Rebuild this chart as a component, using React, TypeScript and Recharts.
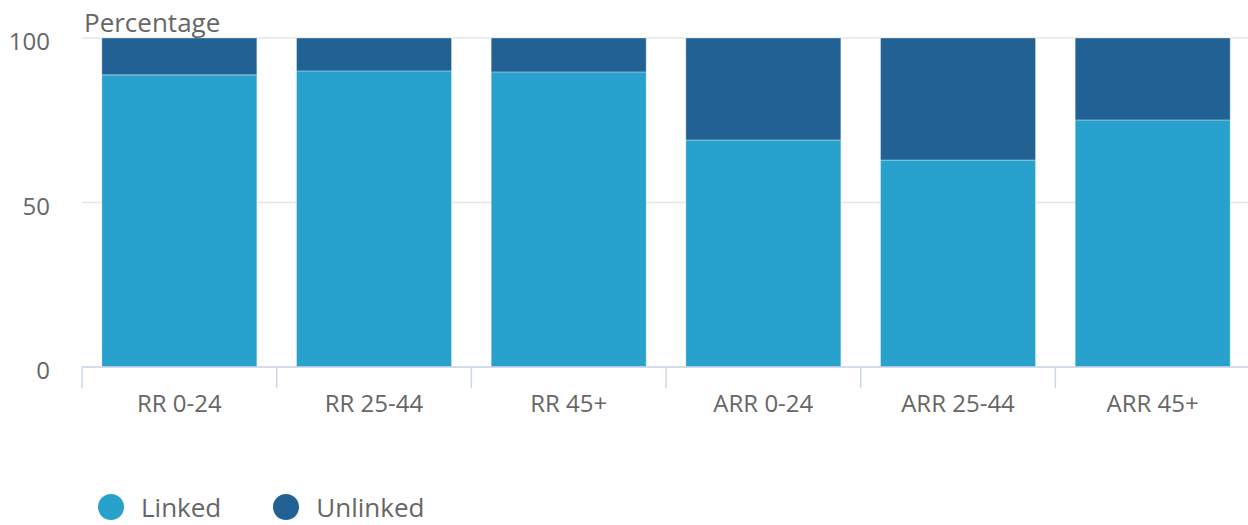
import { BarChart, Bar, XAxis, YAxis, CartesianGrid } from "recharts"

const categories = ["RR 0-24", "RR 25-44", "RR 45+", "ARR 0-24", "ARR 25-44", "ARR 45+"]
const linked = [88.8, 90.0, 89.7, 69.0, 62.9, 75.1]
const unlinked = [11.2, 10.0, 10.3, 31.0, 37.1, 24.9]
const yTicks = [0, 50, 100]

const series = [
  { key: "linked", name: "Linked", color: "#28a1cc" },
  { key: "unlinked", name: "Unlinked", color: "#216194" },
]

const data = categories.map((c, i) => ({ name: c, linked: linked[i], unlinked: unlinked[i] }))

const W = 1248
const H = 525
const Y_AXIS_W = 82
const RIGHT = -2
const TOP = 38
const X_AXIS_H = 158
const FONT = "'Open Sans', 'Noto Sans', sans-serif"
const TEXT = "#666666"
const band = (W - Y_AXIS_W - RIGHT) / categories.length

function XTick(props: any) {
  const { x, y, payload } = props
  return (
    <g>
      <line x1={x - band / 2} x2={x - band / 2} y1={y} y2={y + 21} stroke="#ccd6eb" strokeWidth={1.5} />
      <text x={x} y={y + 45} textAnchor="middle" fontSize={24} fill={TEXT} fontFamily={FONT}>
        {payload.value}
      </text>
    </g>
  )
}

function YTick(props: any) {
  const { y, payload } = props
  return (
    <text x={50} y={y + 12} textAnchor="end" fontSize={24} fill={TEXT} fontFamily={FONT}>
      {payload.value}
    </text>
  )
}

export default function App() {
  return (
    <div style={{ position: "absolute", left: 0, top: 0, width: W, height: H, background: "#fff", overflow: "hidden" }}>
      <BarChart
        width={W}
        height={H}
        data={data}
        margin={{ top: TOP, right: RIGHT, bottom: 0, left: 0 }}
        barCategoryGap="10.2%"
      >
        <CartesianGrid vertical={false} stroke="#e6e6e6" strokeWidth={1.5} />
        <XAxis
          dataKey="name"
          height={X_AXIS_H}
          tickSize={0}
          tickMargin={0}
          tickLine={false}
          axisLine={{ stroke: "#ccd6eb", strokeWidth: 1.5 }}
          tick={<XTick />}
          interval={0}
        />
        <YAxis
          width={Y_AXIS_W}
          domain={[0, 100]}
          ticks={yTicks}
          axisLine={false}
          tickLine={false}
          tickSize={0}
          tick={<YTick />}
        />
        {series.map((s) => (
          <Bar
            key={s.key}
            dataKey={s.key}
            name={s.name}
            stackId="a"
            fill={s.color}
            stroke="#ffffff"
            strokeOpacity={0.35}
            strokeWidth={1}
            isAnimationActive={false}
          />
        ))}
      </BarChart>
      <div
        style={{
          position: "absolute",
          left: 84,
          top: 4,
          fontFamily: FONT,
          fontSize: 26,
          color: TEXT,
          lineHeight: "36px",
        }}
      >
        Percentage
      </div>
      <div
        style={{
          position: "absolute",
          left: 98,
          top: 492,
          display: "flex",
          alignItems: "center",
          fontFamily: FONT,
          fontSize: 26,
          color: TEXT,
        }}
      >
        {series.map((s) => (
          <div key={s.key} style={{ display: "flex", alignItems: "center", height: 30, marginRight: 52 }}>
            <span
              style={{
                display: "inline-block",
                width: 26,
                height: 26,
                borderRadius: "50%",
                background: s.color,
                marginRight: 17,
              }}
            />
            <span style={{ lineHeight: "30px" }}>{s.name}</span>
          </div>
        ))}
      </div>
    </div>
  )
}
